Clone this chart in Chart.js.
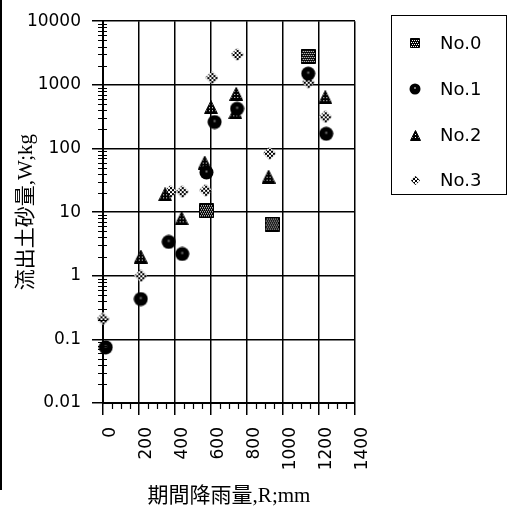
<!DOCTYPE html>
<html>
<head>
<meta charset="utf-8">
<script src="https://cdn.jsdelivr.net/npm/chart.js@4"></script>
<style>
  html, body { margin: 0; padding: 0; background: #fff; }
  #wrap { position: relative; width: 509px; height: 513px; }
  #edge { position: absolute; left: 0; top: 0; width: 2px; height: 490px; background: #000; }
  #legend { position: absolute; left: 391px; top: 15px; width: 114px; height: 178px;
            border: 1.5px solid #000; }
  .item { position: absolute; left: 0; width: 114px; height: 30px; }
  .item canvas { position: absolute; }
  .item span { position: absolute; left: 48px; top: 3px; font: 18px "DejaVu Sans", sans-serif; color: #000; }
</style>
</head>
<body>
<div id="wrap">
  <canvas id="chart" width="509" height="513"></canvas>
  <div id="edge"></div>
  <div id="legend"></div>
</div>
<script>
const seriesNames = ['No.0', 'No.1', 'No.2', 'No.3'];
const no0X = [575, 940, 1140];
const no0Y = [10.5, 6.5, 2800];
const no1X = [15, 210, 365, 440, 575, 620, 745, 1140, 1240];
const no1Y = [0.075, 0.43, 3.4, 2.2, 42, 260, 420, 1500, 170];
const no2X = [210, 345, 437, 565, 600, 740, 735, 920, 1235];
const no2Y = [2.0, 19, 8, 60, 445, 720, 370, 36, 640];
const no3X = [0, 210, 375, 440, 570, 605, 745, 925, 1140, 1235];
const no3Y = [0.21, 1.0, 21, 21, 22, 1300, 3000, 84, 1100, 315];
const xTicks = [0, 200, 400, 600, 800, 1000, 1200, 1400];
const xTickLabels = ['0', '200', '400', '600', '800', '1000', '1200', '1400'];
const yTicks = [0.01, 0.1, 1, 10, 100, 1000, 10000];
const yTickLabels = ['0.01', '0.1', '1', '10', '100', '1000', '10000'];

// patterned marker drawn into a small canvas
function marker(kind, s) {
  const c = document.createElement('canvas');
  c.width = s; c.height = s;
  const g = c.getContext('2d');
  g.beginPath();
  if (kind === 'square') g.rect(0.5, 0.5, s - 1, s - 1);
  else if (kind === 'circle') g.arc(s / 2, s / 2, s / 2 - 0.5, 0, Math.PI * 2);
  else if (kind === 'triangle') { g.moveTo(s / 2, 0.5); g.lineTo(s - 0.5, s - 0.5); g.lineTo(0.5, s - 0.5); g.closePath(); }
  else { g.moveTo(s / 2, 0); g.lineTo(s, s / 2); g.lineTo(s / 2, s); g.lineTo(0, s / 2); g.closePath(); }
  g.save();
  g.clip();
  g.fillStyle = '#000';
  g.fillRect(0, 0, s, s);
  g.fillStyle = '#fff';
  if (kind === 'square') {
    for (let i = 1; i < s - 1; i += 2)
      for (let j = 2; j < s - 1; j += 2) g.fillRect(i + (j % 4 ? 1 : 0), j, 1, 1);
  } else if (kind === 'triangle') {
    for (let i = 2; i < s - 2; i += 3)
      for (let j = 4; j < s - 2; j += 3) g.fillRect(i, j, 1, 1);
  } else if (kind === 'diamond') {
    for (let i = 0; i < s; i += 2)
      for (let j = 0; j < s; j += 2) if (((i + j) / 2) % 2) g.fillRect(i, j, 2, 2);
  } else {
    g.fillStyle = '#777';
    g.fillRect(s / 2 - 1, s / 2 - 2, 2, 2);
  }
  g.restore();
  if (kind === 'square' || kind === 'triangle') { g.lineWidth = 1; g.strokeStyle = '#000'; g.stroke(); }
  return c;
}

const kinds = ['square', 'circle', 'triangle', 'diamond'];
const sizes = [15, 15, 14, 13];
const legendSizes = [10, 12, 11, 9];

function pts(xs, ys) { return xs.map((x, i) => ({ x: x, y: ys[i] })); }
const allX = [no0X, no1X, no2X, no3X];
const allY = [no0Y, no1Y, no2Y, no3Y];

const datasets = seriesNames.map((name, k) => ({
  label: name,
  data: pts(allX[k], allY[k]),
  pointStyle: marker(kinds[k], sizes[k]),
  clip: false
}));

// legend in html
const legend = document.getElementById('legend');
const rowY = [28, 74, 120, 165];
seriesNames.forEach((name, k) => {
  const row = document.createElement('div');
  row.className = 'item';
  row.style.top = (rowY[k] - 15) + 'px';
  const m = marker(kinds[k], legendSizes[k]);
  m.style.left = (23 - legendSizes[k] / 2) + 'px';
  m.style.top = (14 - legendSizes[k] / 2) + 'px';
  row.appendChild(m);
  const t = document.createElement('span');
  t.textContent = name;
  row.appendChild(t);
  legend.appendChild(row);
});

// small minor ticks on both axes
const minorTicks = {
  id: 'minorTicks',
  afterDraw(chart) {
    const { ctx, scales: { x, y } } = chart;
    ctx.save();
    ctx.strokeStyle = '#000';
    ctx.lineWidth = 1.2;
    ctx.beginPath();
    for (let d = 0; d < yTicks.length - 1; d++) {
      for (let k = 2; k < 10; k++) {
        const py = Math.round(y.getPixelForValue(yTicks[d] * k)) + 0.5;
        ctx.moveTo(y.right - 5, py);
        ctx.lineTo(y.right + 4, py);
      }
    }
    for (let v = 50; v < 1400; v += 50) {
      if (v % 200 === 0) continue;
      const px = Math.round(x.getPixelForValue(v)) + 0.5;
      ctx.moveTo(px, x.top);
      ctx.lineTo(px, x.top + 6);
    }
    ctx.stroke();
    ctx.restore();
  }
};

const tickFont = { family: '"DejaVu Sans", sans-serif', size: 17 };
const titleFont = { family: '"Liberation Serif", "Noto Sans CJK JP", serif', size: 21 };

new Chart(document.getElementById('chart'), {
  type: 'scatter',
  data: { datasets: datasets },
  options: {
    responsive: false,
    animation: false,
    layout: { padding: { top: 14, right: 154, left: 0, bottom: 0 } },
    plugins: { legend: { display: false }, tooltip: { enabled: false } },
    scales: {
      x: {
        type: 'linear',
        min: 0,
        max: 1400,
        afterFit: (s) => { s.height = 110; },
        afterBuildTicks: (s) => { s.ticks = xTicks.map(v => ({ value: v })); },
        ticks: {
          autoSkip: false,
          minRotation: 90,
          maxRotation: 90,
          padding: 12,
          labelOffset: 8,
          color: '#000',
          font: tickFont,
          callback: (v, i) => xTickLabels[i]
        },
        grid: { color: '#000', lineWidth: 1.5, tickLength: 12, tickColor: '#000' },
        border: { color: '#000', width: 2 },
        title: { display: true, text: '期間降雨量,R;mm', color: '#000', font: titleFont, padding: { bottom: 4 } }
      },
      y: {
        type: 'logarithmic',
        min: 0.01,
        max: 10000,
        afterFit: (s) => { s.width = 103; },
        afterBuildTicks: (s) => { s.ticks = yTicks.map(v => ({ value: v })); },
        ticks: {
          autoSkip: false,
          padding: 11,
          color: '#000',
          font: tickFont,
          callback: (v, i) => yTickLabels[i]
        },
        grid: { color: '#000', lineWidth: 1.5, tickLength: 11, tickColor: '#000' },
        border: { color: '#000', width: 2 },
        title: { display: true, text: '流出土砂量,W;kg', color: '#000', font: titleFont, padding: { top: 14 } }
      }
    }
  },
  plugins: [minorTicks]
});
</script>
</body>
</html>
